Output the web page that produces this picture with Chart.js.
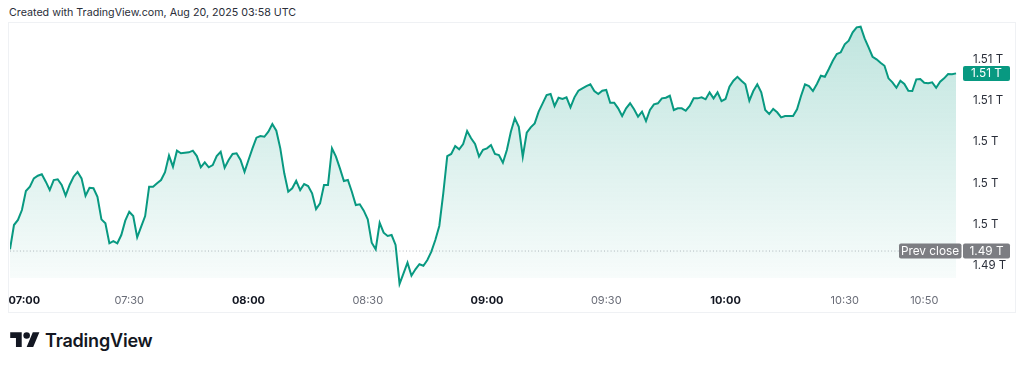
<!DOCTYPE html>
<html>
<head>
<meta charset="utf-8">
<script src="https://cdn.jsdelivr.net/npm/chart.js@4.4.1/dist/chart.umd.min.js"></script>
<style>
  html, body { margin: 0; padding: 0; background: #fff; }
  body { width: 1024px; height: 367px; position: relative; overflow: hidden; font-family: Inter, "Noto Sans", sans-serif; }
  #header { position: absolute; left: 9px; top: 6px; font-size: 10.7px; color: #2a2e39; white-space: nowrap; }
  #frame { position: absolute; left: 8px; top: 22px; width: 1006px; height: 289px; border: 1px solid #eff1f4; }
  #wrap { position: relative; width: 1006px; height: 289px; }
  #logo { position: absolute; left: 10px; top: 329px; display: flex; align-items: center; gap: 5px; font-size: 18px; font-weight: 600; color: #131722; letter-spacing: -0.2px; }
</style>
</head>
<body>
<div id="header">Created with TradingView.com, Aug 20, 2025 03:58 UTC</div>
<div id="frame"><div id="wrap"><canvas id="lineChart"></canvas></div></div>
<div id="logo">
  <svg width="30" height="23" viewBox="0 0 36 28"><path fill="#131722" d="M14 22H7V11H0V4h14v18zM28 22h-8l7.5-18h8L28 22z"/><circle fill="#131722" cx="20" cy="8" r="4"/></svg>
  <span>TradingView</span>
</div>
<script>
// --- DATA (values in trillions, one point per minute from 07:00) ---
const values = [
  1.49360, 1.49595, 1.49644, 1.49740, 1.49924, 1.49966, 1.50047, 1.50073, 1.50086, 1.50015,
  1.49934, 1.50031, 1.50038, 1.49983, 1.49879, 1.49983, 1.50063, 1.50109, 1.50047, 1.49879,
  1.49956, 1.49951, 1.49869, 1.49650, 1.49612, 1.49418, 1.49440, 1.49418, 1.49498, 1.49637,
  1.49724, 1.49682, 1.49476, 1.49579, 1.49682, 1.49966, 1.49966, 1.49999, 1.50031, 1.50107,
  1.50268, 1.50160, 1.50315, 1.50290, 1.50295, 1.50299, 1.50315, 1.50263, 1.50154, 1.50202,
  1.50154, 1.50176, 1.50263, 1.50305, 1.50150, 1.50225, 1.50283, 1.50290, 1.50225, 1.50111,
  1.50225, 1.50338, 1.50441, 1.50457, 1.50450, 1.50499, 1.50573, 1.50509, 1.50338, 1.50096,
  1.49918, 1.49951, 1.50024, 1.49934, 1.49992, 1.49973, 1.49902, 1.49750, 1.49805, 1.49983,
  1.49983, 1.50338, 1.50257, 1.50144, 1.50021, 1.50031, 1.49918, 1.49789, 1.49796, 1.49734,
  1.49650, 1.49424, 1.49360, 1.49617, 1.49521, 1.49489, 1.49498, 1.49402, 1.49024, 1.49127,
  1.49230, 1.49104, 1.49166, 1.49215, 1.49201, 1.49256, 1.49337, 1.49450, 1.49586, 1.49902,
  1.50263, 1.50283, 1.50360, 1.50328, 1.50380, 1.50506, 1.50435, 1.50380, 1.50259, 1.50324,
  1.50338, 1.50370, 1.50283, 1.50273, 1.50199, 1.50322, 1.50499, 1.50629, 1.50547, 1.50257,
  1.50489, 1.50541, 1.50580, 1.50693, 1.50774, 1.50854, 1.50864, 1.50748, 1.50828, 1.50816,
  1.50832, 1.50735, 1.50832, 1.50896, 1.50919, 1.50941, 1.50958, 1.50893, 1.50864, 1.50896,
  1.50903, 1.50780, 1.50780, 1.50725, 1.50651, 1.50725, 1.50774, 1.50716, 1.50644, 1.50693,
  1.50602, 1.50709, 1.50764, 1.50774, 1.50822, 1.50828, 1.50847, 1.50709, 1.50725, 1.50725,
  1.50702, 1.50748, 1.50822, 1.50822, 1.50832, 1.50813, 1.50880, 1.50822, 1.50880, 1.50796,
  1.50816, 1.50935, 1.50993, 1.51031, 1.50993, 1.50958, 1.50799, 1.50893, 1.50958, 1.50880,
  1.50709, 1.50670, 1.50719, 1.50687, 1.50638, 1.50651, 1.50651, 1.50651, 1.50716, 1.50845,
  1.50958, 1.50941, 1.50893, 1.50961, 1.51041, 1.51031, 1.51106, 1.51186, 1.51251, 1.51268,
  1.51345, 1.51380, 1.51461, 1.51510, 1.51516, 1.51403, 1.51316, 1.51225, 1.51200, 1.51167,
  1.51138, 1.51016, 1.50977, 1.50925, 1.50993, 1.50961, 1.50896, 1.50893, 1.51006, 1.51009,
  1.50973, 1.50968, 1.50977, 1.50925, 1.50983, 1.51016, 1.51058, 1.51055, 1.51064
];
const prevClose = 1.49343;

// x ticks: minutes after 07:00
const xTickMinutes = [0, 30, 60, 90, 120, 150, 180, 210, 230];
const xTickLabels  = ['07:00', '07:30', '08:00', '08:30', '09:00', '09:30', '10:00', '10:30', '10:50'];
const xTickBold    = [true, false, true, false, true, false, true, false, false];
const yTickValues  = [1.492, 1.496, 1.500, 1.504, 1.508, 1.512];

// axis ranges
const xMax = 239.5;
const yMin = 1.48985;
const yMax = 1.51552;
const fillFloor = 1.49082; // area fill stops at the pane bottom, the line can dip below it

const lineColor = '#089981';

const fmtT = v => Number(v.toFixed(2)) + ' T';

// badges on the right price scale (last value + prev close)
const badgePlugin = {
  id: 'badges',
  afterDraw(chart) {
    const { ctx, chartArea, scales } = chart;
    const ys = scales.y;
    const boxX = chartArea.right + 1;
    const boxW = 47;
    const boxH = 15;
    ctx.save();
    ctx.font = '11.8px Inter, sans-serif';
    ctx.textAlign = 'center';
    ctx.textBaseline = 'middle';

    // last value
    const yl = ys.getPixelForValue(values[values.length - 1]);
    ctx.fillStyle = lineColor;
    ctx.beginPath();
    ctx.roundRect(boxX, yl - boxH / 2, boxW, boxH, 2);
    ctx.fill();
    ctx.fillStyle = '#ffffff';
    ctx.fillText(fmtT(values[values.length - 1]), boxX + boxW / 2, yl + 0.5);

    // prev close
    const yp = ys.getPixelForValue(prevClose);
    ctx.fillStyle = '#7c7d82';
    ctx.beginPath();
    ctx.roundRect(chartArea.right - 63, yp - boxH / 2, 62.5, boxH, 2);
    ctx.fill();
    ctx.beginPath();
    ctx.roundRect(boxX, yp - boxH / 2, boxW, boxH, 2);
    ctx.fill();
    ctx.fillStyle = '#ffffff';
    ctx.fillText('Prev close', chartArea.right - 63 + 31, yp + 0.5);
    ctx.fillText(fmtT(prevClose), boxX + boxW / 2, yp + 0.5);
    ctx.restore();
  }
};

const ctxLine = document.getElementById('lineChart');
new Chart(ctxLine, {
  type: 'line',
  data: {
    datasets: [{
      data: values.map((v, i) => ({ x: i, y: v })),
      borderColor: lineColor,
      borderWidth: 2,
      pointRadius: 0,
      tension: 0,
      fill: {
        value: fillFloor,
        above: function(context) {
          const chart = context.chart;
          const area = chart.chartArea;
          if (!area) return 'rgba(8,153,129,0.15)';
          const bottom = chart.scales.y.getPixelForValue(fillFloor);
          const g = chart.ctx.createLinearGradient(0, area.top, 0, bottom);
          g.addColorStop(0, 'rgba(8,153,129,0.26)');
          g.addColorStop(1, 'rgba(8,153,129,0.03)');
          return g;
        },
        below: 'rgba(0,0,0,0)'
      }
    }, {
      // prev close dotted line
      data: [{ x: 0, y: prevClose }, { x: xMax, y: prevClose }],
      borderColor: '#b5b7bd',
      borderWidth: 1,
      borderDash: [1, 2.3],
      pointRadius: 0,
      fill: false
    }]
  },
  options: {
    responsive: true,
    maintainAspectRatio: false,
    animation: false,
    layout: { padding: { left: 1, right: 0, top: 0, bottom: 0 } },
    plugins: {
      legend: { display: false },
      tooltip: { enabled: false }
    },
    scales: {
      x: {
        type: 'linear',
        min: 0,
        max: xMax,
        grid: { display: false, drawTicks: false },
        border: { display: false },
        afterBuildTicks: scale => { scale.ticks = xTickMinutes.map(m => ({ value: m })); },
        afterFit: scale => { scale.height = 24; scale.paddingLeft = 0; scale.paddingRight = 0; },
        ticks: {
          autoSkip: false,
          maxRotation: 0,
          padding: 6,
          callback: function(value) {
            const i = xTickMinutes.indexOf(value);
            // first label kept inside the frame
            return i === 0 ? '\u00a0'.repeat(11) + xTickLabels[i] : xTickLabels[i];
          },
          font: c => ({ family: 'Inter, sans-serif', size: 11, weight: (c.tick && xTickBold[xTickMinutes.indexOf(c.tick.value)]) ? 'bold' : 'normal' }),
          color: c => (c.tick && xTickBold[xTickMinutes.indexOf(c.tick.value)]) ? '#131722' : '#6a6d78'
        }
      },
      y: {
        position: 'right',
        min: yMin,
        max: yMax,
        grid: { display: false, drawTicks: false },
        border: { display: false },
        afterBuildTicks: scale => { scale.ticks = yTickValues.map(v => ({ value: v })); },
        afterFit: scale => { scale.width = 53; scale.paddingTop = 0; scale.paddingBottom = 0; },
        ticks: {
          padding: 11,
          color: '#2a2e39',
          font: { family: 'Inter, sans-serif', size: 11.5 },
          callback: v => fmtT(v)
        }
      }
    }
  },
  plugins: [badgePlugin]
});
</script>
</body>
</html>
